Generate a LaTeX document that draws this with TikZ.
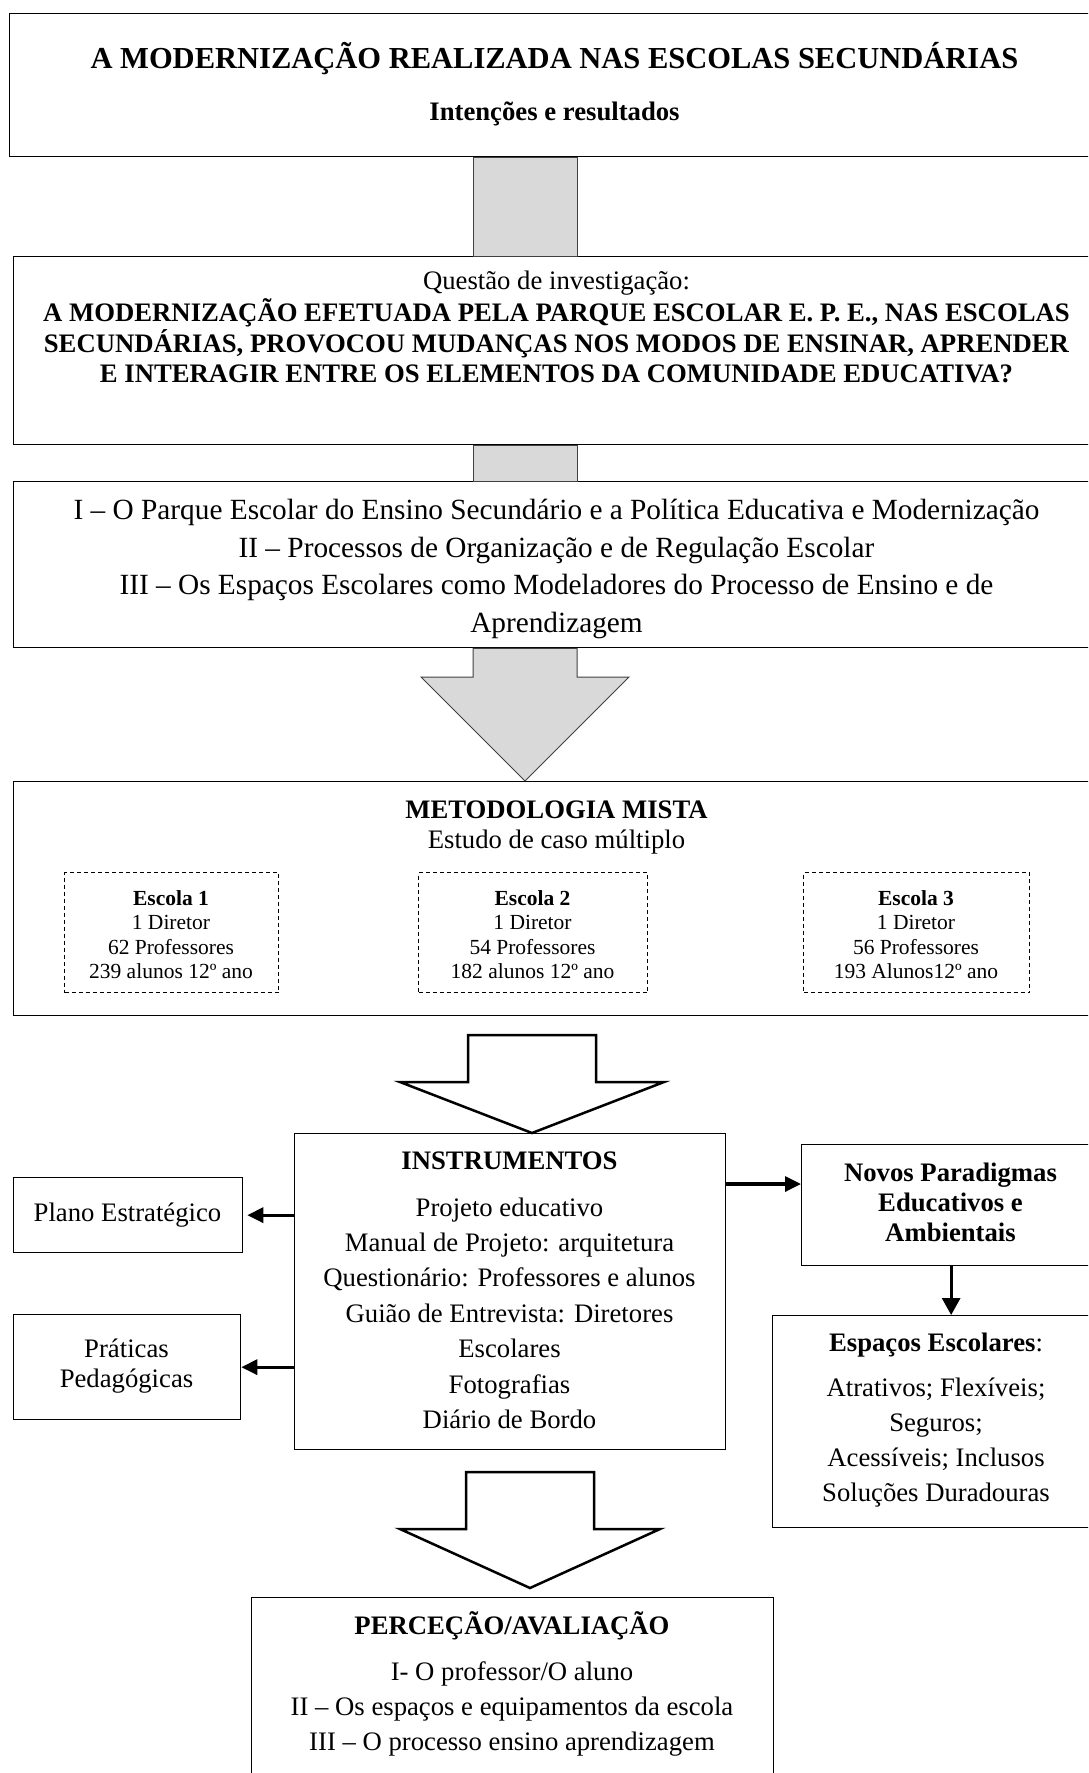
\documentclass[tikz,border=0pt]{standalone}
\usepackage{fontspec}
\setmainfont{Liberation Serif}
\usetikzlibrary{arrows.meta}

\lineskiplimit=-100pt
\newcommand{\ftitulo}{\fontsize{30.5}{36}\selectfont}
\newcommand{\fbase}{\fontsize{26.7}{35.4}\selectfont}
\newcommand{\fpergunta}{\fontsize{26.7}{30.5}\selectfont}
\newcommand{\fcapitulo}{\fontsize{29.3}{37.4}\selectfont}
\newcommand{\fescola}{\fontsize{21.5}{24.5}\selectfont}
\newcommand{\fcurta}{\fontsize{26.7}{30}\selectfont}
\newcommand{\flista}{\fontsize{26.7}{35.2}\selectfont}

\tikzset{
  caixa/.style={draw, line width=1.3pt, inner sep=0pt, anchor=north west},
  escola/.style={draw, line width=1pt, dash pattern=on 4pt off 3pt, inner sep=0pt, anchor=north west},
  texto/.style={inner sep=0pt, align=center, anchor=north, font=\fbase},
  cinza/.style={fill=black!15, draw=black!75, line width=1pt},
  branca/.style={fill=white, draw=black, line width=2.5pt, line join=miter},
  seta/.style={line width=3.3pt, -{Triangle[length=16pt,width=15pt]}},
  setabaixo/.style={line width=3pt, -{Triangle[length=17pt,width=18pt]}},
}

\begin{document}
\begin{tikzpicture}[x=1pt,y=-1pt]
  \useasboundingbox (0,0) rectangle (1088,1773);
  \clip (0,0) rectangle (1088,1773);

  % cabecalho
  \node[caixa, minimum width=1091pt, minimum height=143pt] (titulo) at (9,13) {};
  \node[texto, anchor=base, font=\ftitulo\bfseries] (titulo-a) at (554.5,68) {A MODERNIZAÇÃO REALIZADA NAS ESCOLAS SECUNDÁRIAS};
  \node[texto, anchor=base, font=\fbase\bfseries] (titulo-b) at (554.5,120) {Intenções e resultados};

  % questao de investigacao
  \node[caixa, minimum width=1087pt, minimum height=188pt] (questao) at (13,256) {};
  \node[texto, anchor=base] (questao-a) at (556.5,289) {Questão de investigação:};
  \node[texto, font=\fpergunta\bfseries] (questao-b) at (556.5,298.7)
    {\strut A MODERNIZAÇÃO EFETUADA PELA PARQUE ESCOLAR E. P. E., NAS ESCOLAS\\
     SECUNDÁRIAS, PROVOCOU MUDANÇAS NOS MODOS DE ENSINAR, APRENDER\\
     E INTERAGIR ENTRE OS ELEMENTOS DA COMUNIDADE EDUCATIVA?};

  % capitulos
  \node[caixa, minimum width=1087pt, minimum height=166pt] (capitulos) at (13,481) {};
  \node[texto, font=\fcapitulo] (capitulos-t) at (556.5,493.5)
    {\strut I – O Parque Escolar do Ensino Secundário e a Política Educativa e Modernização\\
     II – Processos de Organização e de Regulação Escolar\\
     III – Os Espaços Escolares como Modeladores do Processo de Ensino e de\\
     Aprendizagem};

  % metodologia
  \node[caixa, minimum width=1087pt, minimum height=234pt] (metodologia) at (13,781) {};
  \node[texto, anchor=base, font=\fbase\bfseries] (metodologia-a) at (556.5,818) {METODOLOGIA MISTA};
  \node[texto, anchor=base] (metodologia-b) at (556.5,848) {Estudo de caso múltiplo};

  \node[escola, minimum width=214pt, minimum height=120pt] (escola1) at (64,872) {};
  \node[escola, minimum width=229pt, minimum height=120pt] (escola2) at (418,872) {};
  \node[escola, minimum width=226pt, minimum height=120pt] (escola3) at (803,872) {};
  \node[texto, font=\fescola] (escola1-t) at (171,888) {\strut\textbf{Escola 1}\\1 Diretor\\62 Professores\\239 alunos 12º ano};
  \node[texto, font=\fescola] (escola2-t) at (532.5,888) {\strut\textbf{Escola 2}\\1 Diretor\\54 Professores\\182 alunos 12º ano};
  \node[texto, font=\fescola] (escola3-t) at (916,888) {\strut\textbf{Escola 3}\\1 Diretor\\56 Professores\\193 Alunos12º ano};

  % instrumentos
  \node[caixa, minimum width=431pt, minimum height=316pt] (instrumentos) at (294,1133) {};
  \node[texto, anchor=base, font=\fbase\bfseries] (instrumentos-a) at (509.5,1169) {INSTRUMENTOS};
  \node[texto] (instrumentos-b) at (509.5,1191.2)
    {\strut Projeto educativo\\Manual de Projeto: arquitetura\\Questionário: Professores e alunos\\
     Guião de Entrevista: Diretores\\Escolares\\Fotografias\\Diário de Bordo};

  \node[caixa, minimum width=229pt, minimum height=75pt] (plano) at (13,1177) {};
  \node[texto, anchor=base] (plano-t) at (127.5,1221) {Plano Estratégico};
  \node[caixa, minimum width=227pt, minimum height=105pt] (praticas) at (13,1314) {};
  \node[texto, font=\fcurta] (praticas-t) at (126.5,1336) {\strut Práticas\\Pedagógicas};

  \node[caixa, minimum width=299pt, minimum height=121pt] (novos) at (801,1144) {};
  \node[texto, font=\fcurta\bfseries] (novos-t) at (950.5,1160) {\strut Novos Paradigmas\\Educativos e\\Ambientais};
  \node[caixa, minimum width=328pt, minimum height=212pt] (espacos) at (772,1315) {};
  \node[texto, anchor=base] (espacos-a) at (936,1351) {\textbf{Espaços Escolares}:};
  \node[texto, font=\flista] (espacos-b) at (936,1371.4)
    {\strut Atrativos; Flexíveis;\\Seguros;\\Acessíveis; Inclusos\\Soluções Duradouras};

  % percecao
  \node[caixa, minimum width=522pt, minimum height=200pt] (percecao) at (251,1597) {};
  \node[texto, anchor=base, font=\fbase\bfseries] (percecao-a) at (512,1634) {PERCEÇÃO/AVALIAÇÃO};
  \node[texto, font=\flista] (percecao-b) at (512,1655.4)
    {\strut I- O professor/O aluno\\II – Os espaços e equipamentos da escola\\III – O processo ensino aprendizagem};

  % ligacoes cinzentas
  \filldraw[cinza] (473,0 |- titulo.south) rectangle (577,0 |- questao.north);
  \filldraw[cinza] (473,0 |- questao.south) rectangle (577,0 |- capitulos.north);
  \filldraw[cinza] (473,0 |- capitulos.south) -- (473,677) -- (421,677) -- (525,0 |- metodologia.north)
    -- (629,677) -- (577,677) -- (577,0 |- capitulos.south) -- cycle;

  % setas brancas
  \filldraw[branca] (468,1035) -- (468,1082) -- (400,1082) -- (532,0 |- instrumentos.north)
    -- (664,1082) -- (596,1082) -- (596,1035) -- cycle;
  \filldraw[branca] (466,1472) -- (466,1529) -- (400,1529) -- (530,1588)
    -- (660,1529) -- (594,1529) -- (594,1472) -- cycle;

  % setas
  \coordinate (saida) at (instrumentos.east |- 0,1184);
  \draw[seta] (instrumentos.west |- plano.east) -- ([xshift=4pt]plano.east);
  \draw[seta] (instrumentos.west |- praticas.east) -- (praticas.east);
  \draw[seta] (saida) -- (novos.west |- saida);
  \draw[setabaixo] (novos.south) -- (novos.south |- espacos.north);
\end{tikzpicture}
\end{document}
